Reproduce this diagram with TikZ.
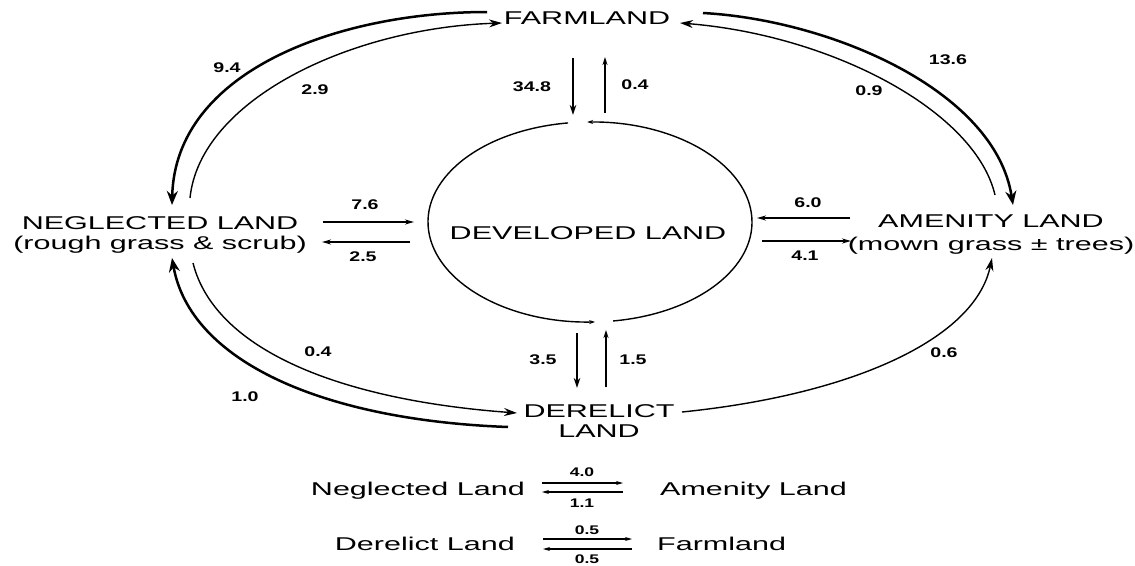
\documentclass[tikz,border=0pt]{standalone}
\usepackage{fontspec}
\setmainfont{Liberation Sans}
\usetikzlibrary{arrows.meta,calc}
\newcommand{\hs}[1]{\scalebox{1.65}[1]{#1}}
\newcommand{\ns}[1]{\scalebox{1.4}[1]{#1}}
\begin{document}
\begin{tikzpicture}[x=1pt,y=-1pt,
  lbl/.style={inner sep=0pt, font=\fontsize{18.5}{20}\selectfont},
  num/.style={inner sep=0pt, font=\bfseries\fontsize{14}{16}\selectfont},
  snum/.style={inner sep=0pt, font=\bfseries\fontsize{12.5}{14}\selectfont},
  bigflow/.style={line width=2.5pt, -{Stealth[length=14pt,width=11pt]}},
  smallflow/.style={line width=1.4pt, -{Stealth[length=13pt,width=8pt]}},
  heavyarr/.style={line width=2.7pt, -{Stealth[length=10pt,width=6.5pt]}},
  lightarr/.style={line width=1.4pt, -{Stealth[length=8pt,width=5pt]}},
  rim/.style={line width=1.4pt, -{Stealth[length=6pt,width=4pt]}},
  legarr/.style={line width=1.5pt, -{Stealth[length=7pt,width=4pt]}}]
\fill[white] (0,0) rectangle (1135,565);
\useasboundingbox (0,0) rectangle (1135,565);

% main land-use labels
\node[lbl] (farm) at (587,18) {\hs{FARMLAND}};
\node[lbl] (dev) at (588,233) {\hs{DEVELOPED LAND}};
\node[lbl, anchor=base] (negl) at (160,229)
  {\hs{\begin{tabular}[t]{@{}c@{}}NEGLECTED LAND\\(rough grass \& scrub)\end{tabular}}};
\node[lbl, anchor=base] (amen) at (991,227)
  {\hs{\begin{tabular}[t]{@{}c@{}}AMENITY LAND\\[3pt](mown grass ± trees)\end{tabular}}};
\node[lbl, anchor=base] (dere) at (599,417)
  {\hs{\begin{tabular}[t]{@{}c@{}}DERELICT\\LAND\end{tabular}}};

% developed land ring (two arcs with gaps)
\coordinate (ecen) at (590,222);
\draw[rim] ($(ecen)+(81.8:162 and 100)$) arc[start angle=81.8, end angle=-91, x radius=162, y radius=100];
\draw[rim] ($(ecen)+(-97.8:162 and 100)$) arc[start angle=-97.8, end angle=-271.8, x radius=162, y radius=100];

% connector end points
\coordinate (fN1) at (487,12);  \coordinate (nF1) at (172,205);
\coordinate (nF2) at (190,198); \coordinate (fN2) at (502,23);
\coordinate (fA1) at (703,13);  \coordinate (aF1) at (1013,205);
\coordinate (aF2) at (995,195); \coordinate (fA2) at (680,23);
\coordinate (dN1) at (508,427); \coordinate (nD1) at (172,258);
\coordinate (nD2) at (193,263); \coordinate (dN2) at (517,413);
\coordinate (dA) at (682,412);  \coordinate (aD) at (992,258);

% farmland <-> neglected
\draw[bigflow] (fN1) .. controls (340,12) and (175,70) .. (nF1);
\draw[smallflow] (nF2) .. controls (200,100) and (350,28) .. (fN2);
% farmland <-> amenity
\draw[bigflow] (fA1) .. controls (830,20) and (995,90) .. (aF1);
\draw[smallflow] (aF2) .. controls (975,110) and (830,35) .. (fA2);
% neglected <-> derelict
\draw[bigflow] (dN1) .. controls (320,420) and (190,360) .. (nD1);
\draw[smallflow] (nD2) .. controls (215,350) and (340,400) .. (dN2);
% derelict -> amenity
\draw[smallflow] (dA) .. controls (850,395) and (975,340) .. (aD);

% farmland <-> developed
\coordinate (fd1) at (573,58);  \coordinate (df1) at (573,115);
\coordinate (df2) at (605,113); \coordinate (fd2) at (605,57);
\draw[heavyarr] (fd1) -- (df1);
\draw[lightarr] (df2) -- (fd2);
% derelict <-> developed
\coordinate (dd1) at (577,333); \coordinate (ddd1) at (577,388);
\coordinate (dd2) at (606,387); \coordinate (ddd2) at (606,330);
\draw[heavyarr] (dd1) -- (ddd1);
\draw[lightarr] (dd2) -- (ddd2);
% neglected <-> developed
\coordinate (nv1) at (323,222); \coordinate (vn1) at (414,222);
\coordinate (vn2) at (410,242); \coordinate (nv2) at (322,242);
\draw[line width=2.1pt, -{Stealth[length=9pt,width=5pt]}] (nv1) -- (vn1);
\draw[line width=1.6pt, -{Stealth[length=9pt,width=5pt]}] (vn2) -- (nv2);
% amenity <-> developed
\coordinate (av1) at (850,218); \coordinate (va1) at (757,218);
\coordinate (va2) at (762,241); \coordinate (av2) at (851,241);
\draw[line width=2.5pt, -{Stealth[length=9pt,width=5pt]}] (av1) -- (va1);
\draw[line width=1.6pt, -{Stealth[length=9pt,width=5pt]}] (va2) -- (av2);

% flow values
\node[num] (v94) at (227,68) {\ns{9.4}};
\node[num] (v29) at (315,90) {\ns{2.9}};
\node[num] (v136) at (948,60) {\ns{13.6}};
\node[num] (v09) at (869,91) {\ns{0.9}};
\node[num] (v348) at (532,87) {\ns{34.8}};
\node[num] (v04a) at (635,85) {\ns{0.4}};
\node[num] (v76) at (365,205) {\ns{7.6}};
\node[num] (v25) at (363,257) {\ns{2.5}};
\node[num] (v60) at (808,203) {\ns{6.0}};
\node[num] (v41) at (805,256) {\ns{4.1}};
\node[num] (v04b) at (318,352) {\ns{0.4}};
\node[num] (v10) at (245,397) {\ns{1.0}};
\node[num] (v35) at (543,360) {\ns{3.5}};
\node[num] (v15) at (633,360) {\ns{1.5}};
\node[num] (v06) at (944,353) {\ns{0.6}};

% legend
\node[lbl, anchor=base east] (lneg) at (525,495) {\hs{Neglected Land}};
\node[lbl, anchor=base west] (lame) at (660,495) {\hs{Amenity Land}};
\node[lbl, anchor=base east] (lder) at (515,550) {\hs{Derelict Land}};
\node[lbl, anchor=base west] (lfar) at (657,550) {\hs{Farmland}};
\coordinate (l1a) at (542,483); \coordinate (l1b) at (623,483);
\coordinate (l2a) at (623,492); \coordinate (l2b) at (542,492);
\coordinate (l3a) at (543,539); \coordinate (l3b) at (632,539);
\coordinate (l4a) at (632,549); \coordinate (l4b) at (543,549);
\draw[legarr] (l1a) -- (l1b);
\draw[legarr] (l2a) -- (l2b);
\draw[legarr] (l3a) -- (l3b);
\draw[legarr] (l4a) -- (l4b);
\node[snum] (v40) at (582,472) {\ns{4.0}};
\node[snum] (v11) at (582,503) {\ns{1.1}};
\node[snum] (v05a) at (587,530) {\ns{0.5}};
\node[snum] (v05b) at (587,559) {\ns{0.5}};
\end{tikzpicture}
\end{document}
